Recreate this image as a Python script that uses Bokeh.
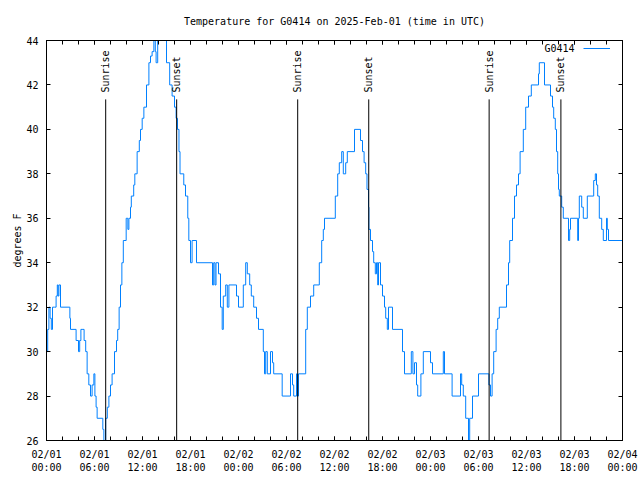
import math
from bokeh.plotting import figure
from bokeh.models import (Range1d, LinearAxis, FixedTicker, SingleIntervalTicker,
                          Legend, LegendItem, ColumnDataSource)
from bokeh.embed import file_html
from bokeh.resources import INLINE
from bokeh.core.properties import value

# ---- data (hours since 2025-02-01 00:00 UTC, degrees F) ----
hours = [0.0, 0.15, 0.3, 0.45, 0.6, 0.75, 1.0, 1.2, 1.35, 1.45, 1.55, 1.75, 2.92, 3.0, 3.7, 4.0,
         4.15, 4.3, 4.55, 4.7, 4.9, 5.08, 5.29, 5.5, 5.7, 5.92, 6.05, 6.2, 6.33, 7.04, 7.17, 7.4,
         7.6, 7.8, 8.0, 8.2, 8.5, 8.75, 8.9, 9.08, 9.25, 9.42, 9.6, 9.96, 10.17, 10.3, 10.5, 10.6,
         10.9, 11.04, 11.33, 11.6, 11.75, 11.96, 12.17, 12.5, 12.8, 13.0, 13.2, 13.42, 13.6, 13.7,
         13.9, 15.0, 15.4, 15.7, 16.0, 16.2, 16.375, 16.56, 16.69, 17.16, 17.375, 17.66, 17.79,
         18.0, 18.2, 18.75, 20.75, 20.9, 21.06, 21.19, 21.5, 21.75, 21.96, 22.1, 22.4, 22.6, 22.8,
         23.75, 24.0, 24.6, 24.9, 25.1, 25.4, 25.6, 25.9, 26.25, 26.5, 27.1, 27.25, 27.4, 27.6,
         28.0, 28.25, 28.4, 29.46, 30.5, 30.75, 30.9, 31.25, 31.35, 31.5, 32.4, 32.6, 33.0, 33.4,
         34.1, 34.4, 34.6, 34.75, 36.1, 36.4, 36.6, 36.9, 37.1, 37.4, 37.6, 38.5, 39.25, 39.5,
         39.7, 39.9, 40.06, 40.25, 40.3, 40.5, 40.75, 40.9, 41.1, 41.25, 41.4, 41.5, 41.75, 42.0,
         42.25, 42.4, 42.6, 42.75, 43.25, 44.5, 44.75, 45.6, 45.8, 46.0, 46.25, 46.4, 46.8, 47.1,
         48.0, 48.25, 49.6, 49.75, 50.7, 51.75, 51.9, 52.1, 52.4, 52.75, 52.9, 53.25, 54.0, 55.3,
         55.5, 55.7, 55.9, 56.2, 56.4, 56.6, 57.5, 57.75, 57.9, 58.25, 58.5, 58.75, 59.0, 59.2,
         59.6, 59.9, 60.25, 60.6, 61.5, 61.6, 62.25, 63.0, 63.25, 63.4, 63.6, 63.75, 63.9, 64.0,
         64.1, 64.4, 64.6, 65.25, 65.4, 65.5, 66.4, 66.5, 66.6, 66.9, 67.1, 67.6, 68.4, 68.6,
         68.75, 68.9, 69.1, 69.4, 69.6, 70.0, 70.1, 70.25, 72.0]
temps = [30, 31, 32, 31.5, 31, 32, 32, 32.5, 33, 32.5, 33, 32, 31.5, 31, 30.5, 30,
         30.5, 31, 31, 30.5, 30, 29, 28.5, 28, 28.5, 29, 28, 27.5, 27, 26.5, 26, 27,
         27.5, 28, 28.5, 29, 30, 30.5, 31, 32, 33, 34, 35, 36, 35.5, 36, 36.5, 37,
         37.5, 38, 39, 39.5, 40, 40.5, 41, 42, 43, 43.3, 43.5, 44.2, 43.5, 43,
         44.5, 43, 42, 41.5, 41, 40.5, 40, 39, 38, 37.5, 37, 36, 35,
         34, 35, 34, 33, 34, 33, 34, 33.5, 32, 31, 32.5, 33, 32, 33,
         32.5, 32, 33, 34, 33.5, 33, 32.5, 32, 31.5, 31, 30, 29, 30, 29,
         30, 29.5, 29, 28, 29, 28.5, 28, 29, 28, 29, 31, 32, 32.5, 33,
         34, 35, 35.5, 36, 37, 38, 38.5, 39, 38, 38.5, 39, 40, 39.5, 39,
         38.5, 38, 37.3, 36.5, 35.5, 35, 34.5, 34, 33.5, 34, 33, 34, 33, 32.5,
         32, 31.5, 31, 32, 31, 30, 29, 30, 29, 29.5, 28.5, 28, 29, 30,
         29.5, 29, 30, 29, 28, 29, 28.5, 28, 27, 26, 27, 28, 29, 28.5,
         28, 29, 30, 31, 31.5, 32, 33, 34, 35, 36, 37, 37.5, 38, 39,
         40, 41, 41.5, 42, 42.5, 43, 42, 41.5, 41, 40.5, 40, 39, 38, 37.3,
         37, 36.5, 36, 35, 35.5, 36, 35, 36, 37, 36.5, 36, 37, 37.7, 38,
         37.5, 37, 36, 35.5, 35, 36, 35.5, 35, 35]

sunrise_hours = [7.4, 31.4, 55.33]
sunset_hours = [16.27, 40.28, 64.3]

x_tick_hours = [0, 6, 12, 18, 24, 30, 36, 42, 48, 54, 60, 66, 72]
x_tick_labels = ["02/01\n00:00", "02/01\n06:00", "02/01\n12:00", "02/01\n18:00",
                 "02/02\n00:00", "02/02\n06:00", "02/02\n12:00", "02/02\n18:00",
                 "02/03\n00:00", "02/03\n06:00", "02/03\n12:00", "02/03\n18:00",
                 "02/04\n00:00"]
x_minor_hours = list(range(0, 73, 2))

FONT = "DejaVu Sans Mono"
FS = "10px"
LINE_COLOR = "#0080ff"

p = figure(width=640, height=480, x_range=Range1d(0, 72), y_range=Range1d(26, 44),
           x_axis_type=None, y_axis_type=None,
           output_backend="svg", toolbar_location=None,
           min_border_left=46, min_border_right=18, min_border_top=40, min_border_bottom=40,
           title="Temperature for G0414 on 2025-Feb-01 (time in UTC)")

p.background_fill_color = "white"
p.border_fill_color = "white"
p.outline_line_color = "black"
p.outline_line_width = 1
p.outline_line_alpha = 1.0

p.title.align = "center"
p.title.text_font = FONT
p.title.text_font_size = FS
p.title.text_font_style = "normal"
p.title.text_color = "black"
p.title.standoff = 27


def style_axis(ax, show_labels=True):
    ax.major_tick_in = 4
    ax.major_tick_out = 0
    ax.minor_tick_in = 4
    ax.minor_tick_out = 0
    ax.axis_line_color = "black"
    ax.major_tick_line_color = "black"
    ax.minor_tick_line_color = "black"
    ax.major_label_text_font = FONT
    if show_labels:
        ax.major_label_text_font_size = FS
        ax.major_label_text_color = "black"
    else:
        ax.major_label_text_font_size = "1px"
        ax.major_label_text_color = None
        ax.major_label_standoff = 0
    ax.axis_label_text_font = FONT
    ax.axis_label_text_font_size = FS
    ax.axis_label_text_font_style = "normal"
    ax.axis_label_text_color = "black"


overrides = {h: lab for h, lab in zip(x_tick_hours, x_tick_labels)}

xb = LinearAxis(ticker=FixedTicker(ticks=x_tick_hours, minor_ticks=x_minor_hours),
                major_label_overrides=overrides)
style_axis(xb)
xb.major_label_standoff = 8
p.add_layout(xb, "below")

xt = LinearAxis(ticker=FixedTicker(ticks=x_tick_hours, minor_ticks=x_minor_hours))
style_axis(xt, show_labels=False)
p.add_layout(xt, "above")

yl = LinearAxis(ticker=SingleIntervalTicker(interval=2, num_minor_ticks=0),
                axis_label="degrees F")
style_axis(yl)
yl.major_label_standoff = 8
yl.axis_label_standoff = 0
p.add_layout(yl, "left")

yr = LinearAxis(ticker=SingleIntervalTicker(interval=2, num_minor_ticks=0))
style_axis(yr, show_labels=False)
p.add_layout(yr, "right")

src = ColumnDataSource(dict(x=hours, y=temps))
r = p.step("x", "y", source=src, mode="after", line_color=LINE_COLOR, line_width=1)

# sunrise / sunset markers
marker_top = 41.35
label_y = 41.66
mx = sunrise_hours + sunset_hours
mlab = ["Sunrise"] * len(sunrise_hours) + ["Sunset"] * len(sunset_hours)
msrc = ColumnDataSource(dict(x=mx, y0=[26] * len(mx), y1=[marker_top] * len(mx),
                             ly=[label_y] * len(mx), t=mlab))
p.segment(x0="x", y0="y0", x1="x", y1="y1", source=msrc, line_color="black", line_width=1)
p.text(x="x", y="ly", text="t", source=msrc, angle=math.pi / 2,
       text_align="left", text_baseline="middle",
       text_font=value(FONT), text_font_size=value(FS), text_color="black")

# legend: name to the left of the sample line (gnuplot style)
legend = Legend(items=[LegendItem(label="", renderers=[r])], location="top_right",
                margin=0, padding=2, spacing=0, glyph_width=27, glyph_height=12,
                label_standoff=10, label_width=0, label_height=12,
                border_line_alpha=0, background_fill_alpha=0,
                label_text_font=FONT, label_text_font_size=FS)
p.add_layout(legend)
p.text(x=[66.0], y=[43.64], text=["G0414"], text_align="right", text_baseline="middle",
       text_font=value(FONT), text_font_size=value(FS), text_color="black")

open("out.html", "w").write(file_html(p, INLINE))
